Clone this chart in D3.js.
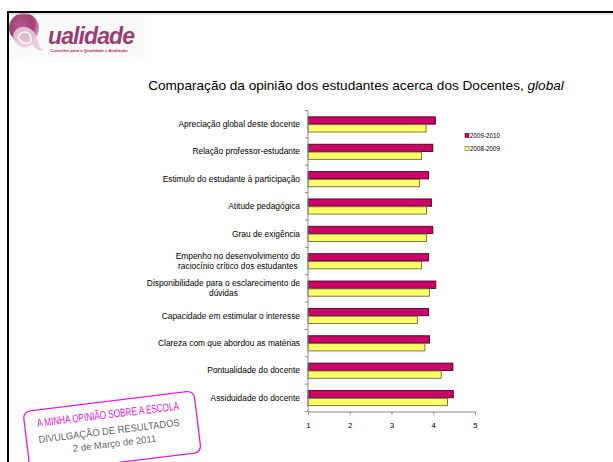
<!DOCTYPE html>
<html><head><meta charset="utf-8">
<script src="https://cdn.jsdelivr.net/npm/d3@7"></script>
<style>body{margin:0;background:#fff}svg{display:block}text{font-family:"Liberation Sans",Arial,sans-serif}</style>
</head><body>
<svg id="c" width="613" height="462"></svg>
<script>
const categories = [
  "Apreciação global deste docente",
  "Relação professor-estudante",
  "Estimulo do estudante à participação",
  "Atitude pedagógica",
  "Grau de exigência",
  "Empenho no desenvolvimento do\nraciocínio crítico dos estudantes",
  "Disponibilidade para o esclarecimento de\ndúvidas",
  "Capacidade em estimular o interesse",
  "Clareza  com que abordou as matérias",
  "Pontualidade do docente",
  "Assiduidade do docente"
];
const seriesNames = ["2009-2010", "2008-2009"];
const values2009_2010 = [4.05, 3.99, 3.89, 3.96, 3.99, 3.89, 4.06, 3.89, 3.91, 4.47, 4.48];
const values2008_2009 = [3.83, 3.72, 3.67, 3.84, 3.84, 3.72, 3.91, 3.62, 3.80, 4.19, 4.34];
const xTicks = [1, 2, 3, 4, 5];
const colors = ["#CC0066", "#FFFF66"];
const strokes = ["#3a0a20", "#6b6b40"];

const svg = d3.select("#c");

svg.append("rect").attr("x",0).attr("y",0).attr("width",613).attr("height",462).attr("fill","#fff");

// logo
const logo = svg.append("g");
logo.append("rect").attr("x",9).attr("y",14).attr("width",136).attr("height",46).attr("fill","#fbfafa");
const grad = svg.append("defs").append("radialGradient").attr("id","lg").attr("cx","40%").attr("cy","40%").attr("r","60%");
grad.append("stop").attr("offset","0%").attr("stop-color","#b65a8e");
grad.append("stop").attr("offset","70%").attr("stop-color","#9d3f74");
grad.append("stop").attr("offset","100%").attr("stop-color","#c98fb0");
logo.append("circle").attr("cx",24).attr("cy",28).attr("r",15).attr("fill","url(#lg)");
logo.append("path").attr("d","M14,40 C10,30 22,22 32,30 C40,36 36,48 44,50 C40,52 34,48 32,44 C28,50 18,48 14,40 Z")
  .attr("fill","#e8c8da").attr("opacity",0.9);
logo.append("path").attr("d","M18,38 C20,30 30,30 31,38 C32,44 24,46 18,38")
  .attr("fill","none").attr("stroke","#fff").attr("stroke-width",1.5);
logo.append("text").attr("x",48).attr("y",44).attr("font-family","'Liberation Serif',serif").attr("font-style","italic").attr("font-weight","bold")
  .attr("font-size",23).attr("fill","#9a3e72").attr("textLength",87).text("ualidade");
logo.append("text").attr("x",50).attr("y",52).attr("font-size",4.2).attr("fill","#c21a5c").attr("font-weight","bold")
  .text("Conselho para a Qualidade e Avaliação");

svg.append("line").attr("x1",7).attr("x2",613).attr("y1",14).attr("y2",14).attr("stroke","#ccc").attr("stroke-width",1);
svg.append("line").attr("x1",7).attr("x2",613).attr("y1",12).attr("y2",12).attr("stroke","#000").attr("stroke-width",2.2);
svg.append("line").attr("x1",8).attr("x2",8).attr("y1",11).attr("y2",462).attr("stroke","#000").attr("stroke-width",2);

// title
const title = svg.append("text").attr("x",356).attr("y",89.5).attr("text-anchor","middle").attr("font-size",13.6).attr("fill","#000");
title.append("tspan").text("Comparação da opinião dos estudantes acerca dos Docentes, ");
title.append("tspan").attr("font-style","italic").text("global");

// scales
const x = d3.scaleLinear().domain([1,5]).range([308,475]);
const y0 = d3.scaleBand().domain(categories).range([110.5,411.5]).padding(0);
const y1 = d3.scaleBand().domain(seriesNames).range([0,y0.bandwidth()]).paddingInner(0).paddingOuter(0.75);
const data = categories.map((c,i)=>({c, v:[values2009_2010[i], values2008_2009[i]]}));

const plot = svg.append("g");
const groups = plot.selectAll("g.cat").data(data).join("g").attr("class","cat")
  .attr("transform", d=>`translate(0,${y0(d.c)})`);
groups.selectAll("rect").data(d=>seriesNames.map((s,j)=>({s,j,v:d.v[j]}))).join("rect")
  .attr("x", x(1)).attr("y", d=>y1(d.s)+0.5)
  .attr("width", d=>x(d.v)-x(1)).attr("height", y1.bandwidth()-0.5)
  .attr("fill", d=>colors[d.j]).attr("stroke", d=>strokes[d.j]).attr("stroke-width",0.9);

// x axis
const xAxis = d3.axisBottom(x).tickValues(xTicks).tickSize(3).tickFormat(d3.format("d"));
const gx = svg.append("g").attr("transform","translate(0,411.5)").call(xAxis);
gx.select(".domain").attr("stroke","#888");
gx.selectAll(".tick line").attr("stroke","#888");
gx.selectAll(".tick text").attr("font-size",7.8).attr("fill","#000").attr("dy","1.3em");

// y axis line with boundary ticks
svg.append("line").attr("x1",308).attr("x2",308).attr("y1",110.5).attr("y2",411.5).attr("stroke","#888");
const bounds = categories.map(c=>y0(c)).concat([y0.range()[1]]);
svg.selectAll("line.yt").data(bounds).join("line").attr("class","yt")
  .attr("x1",305).attr("x2",308).attr("y1",d=>d).attr("y2",d=>d).attr("stroke","#888");

// category labels
const labelRight = 300;
const lfs = 8.4;
categories.forEach(c=>{
  const lines = c.split("\n");
  const cy = y0(c) + y0.bandwidth()/2;
  const t = svg.append("text").attr("font-size",lfs).attr("fill","#000");
  if (lines.length === 1) {
    t.attr("x",labelRight).attr("y",cy+2.9).attr("text-anchor","end").text(c);
  } else {
    const tmp = lines.map(l=>{ const s=svg.append("text").attr("font-size",lfs).text(l); const w=s.node().getComputedTextLength(); s.remove(); return w;});
    const mw = d3.max(tmp);
    const cx = labelRight - mw/2;
    t.attr("text-anchor","middle");
    lines.forEach((l,k)=>{
      t.append("tspan").attr("x",cx).attr("y",cy + 2.9 + (k - (lines.length-1)/2)*10).text(l);
    });
  }
});

// legend
const lg = svg.append("g");
seriesNames.forEach((s,i)=>{
  const ly = 137 + i*13;
  lg.append("rect").attr("x",465).attr("y",ly-3.5).attr("width",4).attr("height",4)
    .attr("fill",colors[i]).attr("stroke",strokes[i]).attr("stroke-width",0.6);
  lg.append("text").attr("x",470).attr("y",ly+1).attr("font-size",6.3).attr("fill","#000").text(s);
});

// stamp
const st = svg.append("g").attr("transform","translate(112,431) rotate(-7)");
st.append("rect").attr("x",-86).attr("y",-30).attr("width",172).attr("height",62).attr("rx",7)
  .attr("fill","none").attr("stroke","#e020e0").attr("stroke-width",1.3);
st.append("text").attr("x",-2).attr("y",-13).attr("text-anchor","middle").attr("font-family","'DejaVu Sans Condensed','Liberation Sans Narrow',sans-serif")
  .attr("font-size",11.5).attr("fill","#e020e0").attr("textLength",143).attr("lengthAdjust","spacingAndGlyphs").text("A MINHA OPINIÃO SOBRE A ESCOLA");
st.append("text").attr("x",-3).attr("y",3).attr("text-anchor","middle")
  .attr("font-size",10).attr("fill","#666").attr("textLength",142).attr("lengthAdjust","spacingAndGlyphs").text("DIVULGAÇÃO DE RESULTADOS");
st.append("text").attr("x",1).attr("y",16).attr("text-anchor","middle")
  .attr("font-size",9.5).attr("fill","#666").text("2 de Março de 2011");
</script>
</body></html>
